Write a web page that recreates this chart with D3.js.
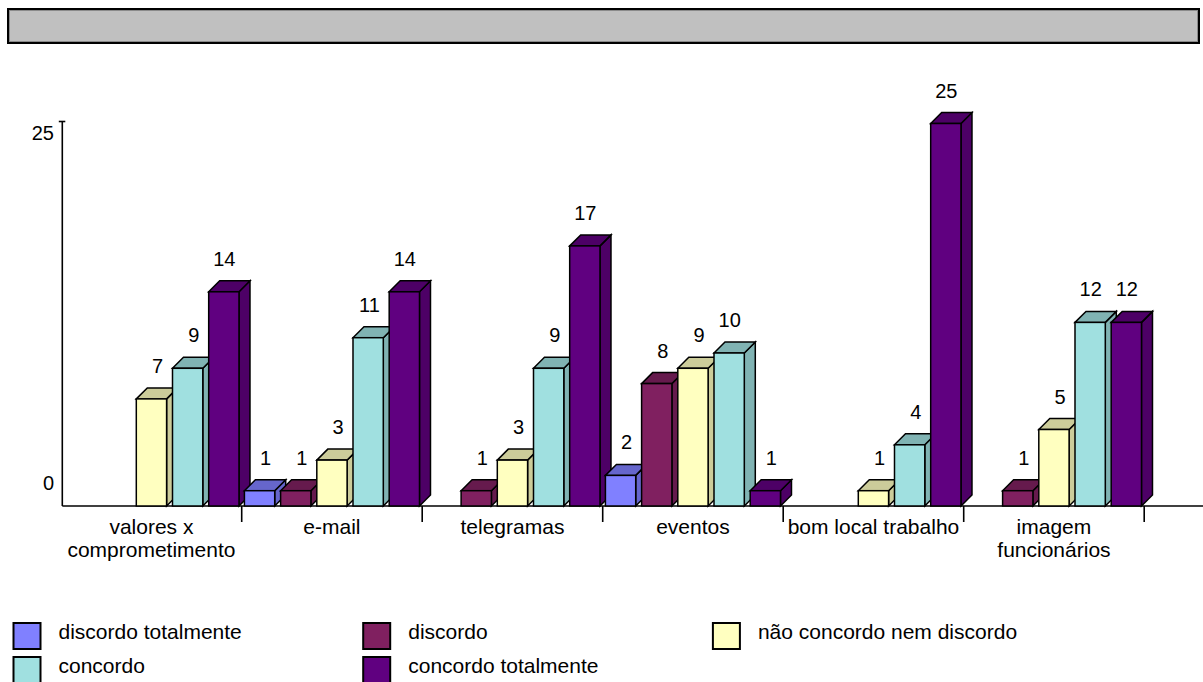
<!DOCTYPE html>
<html>
<head>
<meta charset="utf-8">
<script src="https://cdn.jsdelivr.net/npm/d3@7"></script>
<style>
  html, body { margin: 0; padding: 0; background: #ffffff; }
  svg { display: block; }
  text { font-family: Arial, "Liberation Sans", sans-serif; fill: #000; }
</style>
</head>
<body>
<svg id="chart" width="1203" height="682"></svg>
<script>
// Survey answers per topic
const categories = [
  ["valores x", "comprometimento"],
  ["e-mail"],
  ["telegramas"],
  ["eventos"],
  ["bom local trabalho"],
  ["imagem", "funcionários"]
];
const seriesNames = [
  "discordo totalmente",
  "discordo",
  "não concordo nem discordo",
  "concordo",
  "concordo totalmente"
];
const discordoTotalmente = [0, 1, 0, 2, 0, 0];
const discordo = [0, 1, 1, 8, 0, 1];
const naoConcordoNemDiscordo = [7, 3, 3, 9, 1, 5];
const concordo = [9, 11, 9, 10, 4, 12];
const concordoTotalmente = [14, 14, 17, 1, 25, 12];
const yTicks = [0, 25];

const seriesValues = [discordoTotalmente, discordo, naoConcordoNemDiscordo, concordo, concordoTotalmente];
const frontColors = ["#8080ff", "#802060", "#ffffc0", "#a0e0e0", "#600080"];
const shadeColors = ["#6666cc", "#661a4d", "#cccc9a", "#80b3b3", "#4d0066"];

const svg = d3.select("#chart");
const catKeys = categories.map(c => c.join(" "));

// Title banner
svg.append("rect").attr("x", 8).attr("y", 9).attr("width", 1191).attr("height", 34)
  .attr("fill", "#c0c0c0").attr("stroke", "#000").attr("stroke-width", 2);
svg.append("rect").attr("x", 9.5).attr("y", 10.5).attr("width", 1188).attr("height", 31)
  .attr("fill", "none").attr("stroke", "#8a8a8a").attr("stroke-width", 1);

// Scales
const x0 = d3.scaleBand().domain(catKeys).range([61.2, 1144.2]).paddingInner(0).paddingOuter(0);
const x1 = d3.scaleBand().domain(seriesNames).range([0, x0.bandwidth()])
  .paddingInner(0.163).paddingOuter(0.075);
const y = d3.scaleLinear().domain([0, 25]).range([506, 123.5]);
const depth = 11;

// Value axis
const axisX = 62.3;
svg.append("line").attr("x1", axisX).attr("x2", axisX)
  .attr("y1", y(25) - 2).attr("y2", y(0))
  .attr("stroke", "#000").attr("stroke-width", 1.6);
svg.append("line").attr("x1", axisX - 3.5).attr("x2", axisX + 3)
  .attr("y1", y(25) - 2).attr("y2", y(25) - 2)
  .attr("stroke", "#000").attr("stroke-width", 1.6);
svg.selectAll("text.ytick").data(yTicks).enter().append("text")
  .attr("class", "ytick")
  .attr("x", 54)
  .attr("y", d => d === 0 ? y(d) - 16 : y(d) + 16.5)
  .attr("text-anchor", "end")
  .attr("font-size", 20)
  .text(d => d);

// Category axis baseline and ticks
svg.append("line").attr("x1", axisX).attr("x2", 1203)
  .attr("y1", y(0)).attr("y2", y(0))
  .attr("stroke", "#000").attr("stroke-width", 1.4);
svg.selectAll("line.xtick").data(catKeys).enter().append("line")
  .attr("class", "xtick")
  .attr("x1", d => x0(d) + x0.bandwidth()).attr("x2", d => x0(d) + x0.bandwidth())
  .attr("y1", y(0)).attr("y2", y(0) + 16)
  .attr("stroke", "#000").attr("stroke-width", 1.6);

// Category labels
const catLabels = svg.selectAll("text.cat").data(categories).enter().append("text")
  .attr("class", "cat")
  .attr("text-anchor", "middle")
  .attr("font-size", 21);
catLabels.each(function (lines, i) {
  const cx = x0(catKeys[i]) + x0.bandwidth() / 2;
  d3.select(this).selectAll("tspan").data(lines).enter().append("tspan")
    .attr("x", cx)
    .attr("y", (d, j) => 534 + j * 23)
    .text(d => d);
});

// 3D bars
const bars = [];
categories.forEach((c, ci) => {
  seriesNames.forEach((s, si) => {
    const v = seriesValues[si][ci];
    if (v > 0) bars.push({ cat: catKeys[ci], series: s, si, v });
  });
});

const gBars = svg.append("g");
bars.forEach(b => {
  const left = x0(b.cat) + x1(b.series);
  const right = left + x1.bandwidth();
  const top = y(b.v);
  const bottom = y(0);
  const g = gBars.append("g")
    .attr("stroke", "#000").attr("stroke-width", 1.5).attr("stroke-linejoin", "miter");
  // side face
  g.append("polygon")
    .attr("points", [[right, bottom], [right + depth, bottom - depth], [right + depth, top - depth], [right, top]].join(" "))
    .attr("fill", shadeColors[b.si]);
  // top face
  g.append("polygon")
    .attr("points", [[left, top], [left + depth, top - depth], [right + depth, top - depth], [right, top]].join(" "))
    .attr("fill", shadeColors[b.si]);
  // front face
  g.append("rect")
    .attr("x", left).attr("y", top)
    .attr("width", x1.bandwidth()).attr("height", bottom - top)
    .attr("fill", frontColors[b.si]);
});

// Value labels
svg.selectAll("text.val").data(bars).enter().append("text")
  .attr("class", "val")
  .attr("x", d => x0(d.cat) + x1(d.series) + x1.bandwidth() - 3.5)
  .attr("y", d => y(d.v) - 26)
  .attr("text-anchor", "end")
  .attr("font-size", 20)
  .text(d => d.v);

// Legend
const legend = svg.selectAll("g.leg").data(seriesNames).enter().append("g")
  .attr("class", "leg")
  .attr("transform", (d, i) => `translate(${13.5 + (i % 3) * 349.7},${623 + Math.floor(i / 3) * 34})`);
legend.append("rect")
  .attr("x", 0).attr("y", 0).attr("width", 27).attr("height", 26)
  .attr("fill", (d, i) => frontColors[i])
  .attr("stroke", "#000").attr("stroke-width", 2);
legend.append("text")
  .attr("x", 45).attr("y", 15.5)
  .attr("font-size", 21)
  .text(d => d);
</script>
</body>
</html>
